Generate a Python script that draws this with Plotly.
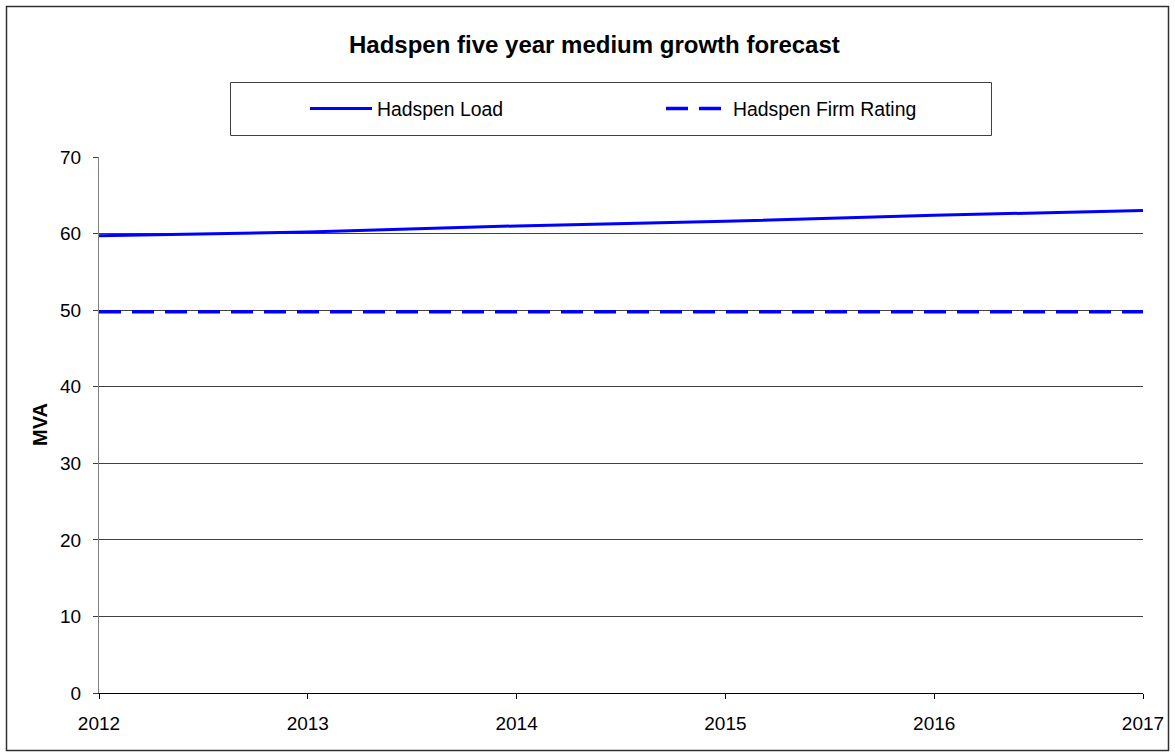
import plotly.graph_objects as go

# ---- data ----
years = [2012, 2013, 2014, 2015, 2016, 2017]
load_mva = [59.7, 60.2, 61.0, 61.6, 62.4, 63.0]
firm_rating_mva = [49.8, 49.8, 49.8, 49.8, 49.8, 49.8]
series_names = ["Hadspen Load", "Hadspen Firm Rating"]
title_text = "Hadspen five year medium growth forecast"
y_title = "MVA"
y_ticks = [0, 10, 20, 30, 40, 50, 60, 70]

# ---- layout geometry (pixels) ----
W, H = 1175, 752
PL, PR, PT, PB = 99, 1143, 157, 693
pw, ph = PR - PL, PB - PT


def px_x(x):
    return (x - PL) / pw


def px_y(y):
    return (PB - y) / ph


FONT = "Liberation Sans, Arial, sans-serif"

fig = go.Figure()
fig.add_trace(go.Scatter(
    x=years, y=load_mva, name=series_names[0], mode="lines",
    line=dict(color="#0000FF", width=3),
))
fig.add_trace(go.Scatter(
    x=years, y=firm_rating_mva, name=series_names[1], mode="lines",
    line=dict(color="#0000FF", width=3.5, dash="22px,11px"),
))

fig.update_layout(
    width=W, height=H,
    margin=dict(l=PL, r=W - PR, t=PT, b=H - PB, autoexpand=False),
    paper_bgcolor="white", plot_bgcolor="white",
    font=dict(family=FONT, size=19, color="black"),
    showlegend=True,
    legend=dict(
        orientation="h", x=px_x(305), xanchor="left",
        y=px_y(109), yanchor="middle",
        bgcolor="rgba(0,0,0,0)", borderwidth=0,
        font=dict(family=FONT, size=19.4, color="black"),
        itemwidth=62, entrywidth=279, entrywidthmode="pixels",
        traceorder="normal",
    ),
    xaxis=dict(
        range=[2012, 2017], tickmode="array", tickvals=years,
        ticktext=[str(y) for y in years],
        showgrid=False, zeroline=False,
        showline=True, linecolor="black", linewidth=1,
        ticks="outside", ticklen=5, tickcolor="black",
        ticklabelstandoff=8,
        tickfont=dict(family=FONT, size=19, color="black"),
    ),
    yaxis=dict(
        range=[0, 70], tickmode="array", tickvals=y_ticks,
        showgrid=True, gridcolor="#404040", gridwidth=1,
        zeroline=False,
        showline=True, linecolor="#808080", linewidth=1,
        ticks="outside", ticklen=5, tickcolor="#404040",
        ticklabelstandoff=8,
        tickfont=dict(family=FONT, size=19, color="black"),
    ),
    shapes=[
        # legend box
        dict(type="rect", xref="paper", yref="paper",
             x0=px_x(230.5), x1=px_x(991.5), y0=px_y(135.5), y1=px_y(82.5),
             line=dict(color="#404040", width=1), fillcolor="rgba(0,0,0,0)", layer="below"),
        # outer chart border
        dict(type="rect", xref="paper", yref="paper",
             x0=px_x(6.5), x1=px_x(1168.5), y0=px_y(750.5), y1=px_y(6.5),
             line=dict(color="#303030", width=1.5), fillcolor="rgba(0,0,0,0)", layer="below"),
    ],
    annotations=[
        dict(text="<b>" + title_text + "</b>", xref="paper", yref="paper",
             x=px_x(594), y=px_y(44), xanchor="center", yanchor="middle",
             showarrow=False, font=dict(family=FONT, size=24, color="black")),
        dict(text="<b>" + y_title + "</b>", xref="paper", yref="paper",
             x=px_x(40), y=px_y(425), xanchor="center", yanchor="middle",
             textangle=-90, showarrow=False,
             font=dict(family=FONT, size=20, color="black")),
    ],
)

fig.write_html("out.html")
